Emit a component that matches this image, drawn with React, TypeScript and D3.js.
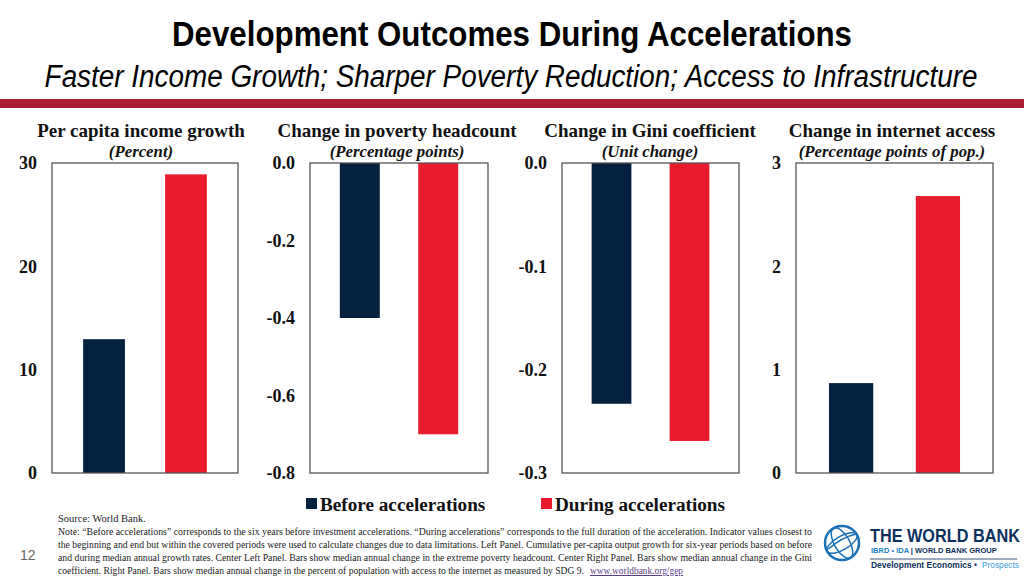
import React from "react";
import * as d3 from "d3";

const panelTitles = [
  "Per capita income growth",
  "Change in poverty headcount",
  "Change in Gini coefficient",
  "Change in internet access",
];
const panelUnits = ["(Percent)", "(Percentage points)", "(Unit change)", "(Percentage points of pop.)"];
const seriesNames = ["Before accelerations", "During accelerations"];
const beforeValues = [12.95, -0.4, -0.233, 0.87];
const duringValues = [28.9, -0.7, -0.269, 2.68];
const yDomains: [number, number][] = [
  [0, 30],
  [-0.8, 0],
  [-0.3, 0],
  [0, 3],
];
const yTicks = [
  [0, 10, 20, 30],
  [0, -0.2, -0.4, -0.6, -0.8],
  [0, -0.1, -0.2, -0.3],
  [0, 1, 2, 3],
];
const tickFormats = [".0f", ".1f", ".1f", ".0f"];
const footnoteLines = [
  "Source: World Bank.",
  "Note: \u201cBefore accelerations\u201d corresponds to the six years before investment accelerations. \u201cDuring accelerations\u201d corresponds to the full duration of the acceleration. Indicator values closest to",
  "the beginning and end but within the covered periods were used to calculate changes due to data limitations. Left Panel. Cumulative per-capita output growth for six-year periods based on before",
  "and during median annual growth rates. Center Left Panel. Bars show median annual change in the extreme poverty headcount. Center Right Panel. Bars show median annual change in the Gini",
  "coefficient. Right Panel. Bars show median annual  change in the percent of population with access to the internet  as measured by SDG 9.",
];
const footnoteLink = "www.worldbank.org/gep";

const NAVY = "#06213f";
const RED = "#e91c2e";
const colors = [NAVY, RED];
const boxes = [
  [52, 238],
  [310, 488],
  [562, 739],
  [796, 993],
];
const titleCenters = [141, 397, 650, 892];
const TOP = 163;
const BOTTOM = 473;
const SERIF = "'Liberation Serif', 'Times New Roman', serif";
const SANS = "'Liberation Sans', Arial, sans-serif";

function Panel({ i }: { i: number }) {
  const [x0, x1] = boxes[i];
  const y = d3.scaleLinear().domain(yDomains[i]).range([BOTTOM, TOP]);
  const x = d3
    .scaleBand<string>()
    .domain(seriesNames)
    .range([x0, x1])
    .paddingInner(0.49)
    .paddingOuter(0.38);
  const fmt = d3.format(tickFormats[i]);
  const vals = [beforeValues[i], duringValues[i]];
  return (
    <g>
      <text
        x={titleCenters[i]}
        y={137}
        textAnchor="middle"
        fontFamily={SERIF}
        fontWeight="bold"
        fontSize={19}
        fill="#111"
      >
        {panelTitles[i]}
      </text>
      <text
        x={titleCenters[i]}
        y={157}
        textAnchor="middle"
        fontFamily={SERIF}
        fontWeight="bold"
        fontStyle="italic"
        fontSize={16.8}
        fill="#111"
      >
        {panelUnits[i]}
      </text>
      {vals.map((v, k) => (
        <rect
          key={k}
          x={x(seriesNames[k])}
          width={x.bandwidth()}
          y={Math.min(y(v), y(0))}
          height={Math.abs(y(v) - y(0))}
          fill={colors[k]}
        />
      ))}
      <rect x={x0} y={TOP} width={x1 - x0} height={BOTTOM - TOP} fill="none" stroke="#555" strokeWidth={1.3} />
      {yTicks[i].map((t) => (
        <text
          key={t}
          x={x0 - 15}
          y={y(t)}
          dy="0.35em"
          textAnchor="end"
          fontFamily={SERIF}
          fontWeight="bold"
          fontSize={18}
          fill="#111"
        >
          {fmt(t).replace("\u2212", "-")}
        </text>
      ))}
    </g>
  );
}

function Logo() {
  const cx = 842;
  const cy = 543;
  const r = 17;
  const blue = "#1a6fb5";
  return (
    <g>
      <circle cx={cx} cy={cy} r={r} fill="none" stroke={blue} strokeWidth={2.5} />
      <ellipse cx={cx} cy={cy} rx={r * 0.45} ry={r} fill="none" stroke={blue} strokeWidth={1.5} transform={`rotate(-30 ${cx} ${cy})`} />
      <ellipse cx={cx} cy={cy} rx={r} ry={r * 0.4} fill="none" stroke={blue} strokeWidth={1.5} transform={`rotate(-30 ${cx} ${cy})`} />
      <path d={`M${cx - r * 0.8},${cy + 6} Q${cx},${cy - 6} ${cx + r * 0.85},${cy - 9}`} fill="none" stroke={blue} strokeWidth={1.5} />
      <g transform="translate(870,542) scale(0.93,1)">
        <text x={0} y={0} fontFamily={SANS} fontWeight="bold" fontSize={17.5} fill="#0b2f5e">
          THE WORLD BANK
        </text>
      </g>
      <text x={871} y={553} fontFamily={SANS} fontWeight="bold" fontSize={7.5} fill="#1a7fc4">
        IBRD • IDA
        <tspan fill="#0b2f5e"> | WORLD BANK GROUP</tspan>
      </text>
      <line x1={870} x2={1017} y1={559} y2={559} stroke="#0b2f5e" strokeWidth={0.8} />
      <text x={871} y={568} fontFamily={SANS} fontWeight="bold" fontSize={8.6} fill="#0b2f5e" textLength={106} lengthAdjust="spacingAndGlyphs">
        Development Economics •
      </text>
      <text x={982} y={568} fontFamily={SANS} fontSize={8.6} fill="#3a9ad9" textLength={37} lengthAdjust="spacingAndGlyphs">
        Prospects
      </text>
    </g>
  );
}

export default function App() {
  return (
    <svg width={1024} height={576} style={{ display: "block", position: "absolute", left: 0, top: 0 }}>
      <rect width={1024} height={576} fill="#fff" />
      <g transform="translate(512,46) scale(0.8,1)">
        <text x={0} y={0} textAnchor="middle" fontFamily={SANS} fontWeight="bold" fontSize={36} fill="#000" textLength={850} lengthAdjust="spacingAndGlyphs">
          Development Outcomes During Accelerations
        </text>
      </g>
      <g transform="translate(511,87) scale(0.8,1)">
        <text x={0} y={0} textAnchor="middle" fontFamily={SANS} fontStyle="italic" fontSize={31} fill="#000" textLength={1166} lengthAdjust="spacingAndGlyphs">
          Faster Income Growth; Sharper Poverty Reduction; Access to Infrastructure
        </text>
      </g>
      <rect x={0} y={99} width={1024} height={9} fill="#a91e30" />
      {panelTitles.map((_, i) => (
        <Panel key={i} i={i} />
      ))}
      {seriesNames.map((s, k) => {
        const lx = [306, 541][k];
        return (
          <g key={s}>
            <rect x={lx} y={498} width={11} height={11} fill={colors[k]} />
            <text x={lx + 14} y={511} fontFamily={SERIF} fontWeight="bold" fontSize={19.2} fill="#111">
              {s}
            </text>
          </g>
        );
      })}
      {footnoteLines.map((l, j) => (
        <text
          key={j}
          x={58}
          y={522 + j * 13}
          fontFamily={SERIF}
          fontSize={j === 0 ? 10.5 : j === 4 ? 9.5 : 10}
          fill="#222"
          textLength={j >= 1 && j <= 3 ? 754 : j === 4 ? 526 : undefined}
          lengthAdjust="spacingAndGlyphs"
        >
          {l}
        </text>
      ))}
      <text
        x={590}
        y={522 + 4 * 13}
        fontFamily={SERIF}
        fontSize={10}
        fill="#5a3d8a"
        textDecoration="underline"
        textLength={93}
        lengthAdjust="spacingAndGlyphs"
      >
        {footnoteLink}
      </text>
      <text x={20} y={560} fontFamily={SANS} fontSize={14} fill="#666">
        12
      </text>
      <Logo />
    </svg>
  );
}
